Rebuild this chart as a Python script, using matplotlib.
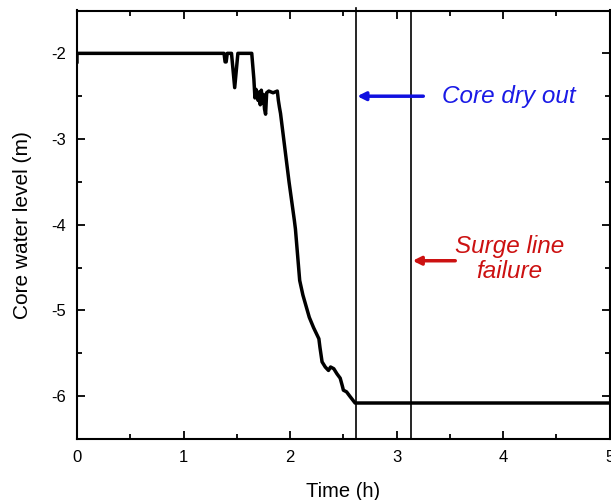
import matplotlib
matplotlib.use("Agg")
import matplotlib.pyplot as plt

plt.rcParams['font.family'] = ['Liberation Sans', 'DejaVu Sans']

# core water level vs time
tiempo_h = [0.0, 0.0, 1.38, 1.39, 1.40, 1.41, 1.45, 1.48, 1.51, 1.54, 1.64, 1.66,
            1.67, 1.68, 1.70, 1.71, 1.72, 1.73, 1.74, 1.75, 1.76, 1.77, 1.78, 1.80,
            1.84, 1.88, 1.89, 1.90, 1.91, 1.94, 1.99, 2.04, 2.05, 2.09, 2.12, 2.15,
            2.18, 2.22, 2.27, 2.28, 2.30, 2.33, 2.36, 2.38, 2.41, 2.44, 2.47, 2.49,
            2.50, 2.53, 2.56, 2.61, 2.63, 5.0]
nivel_m = [-2.10, -2.0, -2.0, -2.10, -2.10, -2.0, -2.0, -2.40, -2.0, -2.0, -2.0, -2.30,
           -2.52, -2.42, -2.55, -2.45, -2.60, -2.43, -2.58, -2.48, -2.65, -2.71, -2.46,
           -2.44, -2.46, -2.44, -2.55, -2.63, -2.70, -3.00, -3.50, -3.95, -4.05, -4.65,
           -4.82, -4.95, -5.08, -5.20, -5.33, -5.43, -5.60, -5.66, -5.70, -5.66, -5.68,
           -5.74, -5.79, -5.88, -5.93, -5.95, -6.00, -6.08, -6.08, -6.08]

# eventos
t_dryout = 2.62
t_surge = 3.13


def gere_grafico_nivel():
    fig = plt.figure(figsize=(6.11, 5.0), dpi=100)
    ax = fig.add_axes([0.126, 0.122, 0.872, 0.857])

    ax.plot(tiempo_h, nivel_m, color='black', lw=2.5, solid_joinstyle='round')
    ax.axvline(t_dryout, color='black', lw=1.2, clip_on=False, ymax=1.005)
    ax.axvline(t_surge, color='black', lw=1.2)

    # flechas e textos
    ax.annotate('', xy=(t_dryout + 0.01, -2.5), xytext=(3.25, -2.5),
                arrowprops=dict(arrowstyle='-|>', color='#1010e0', lw=2.5,
                                mutation_scale=12, shrinkA=0, shrinkB=0))
    ax.text(4.05, -2.5, 'Core dry out', color='#1a1ae6', fontsize=17.5,
            style='italic', ha='center', va='center')
    ax.annotate('', xy=(t_surge + 0.02, -4.42), xytext=(3.55, -4.42),
                arrowprops=dict(arrowstyle='-|>', color='#cc1111', lw=2.5,
                                mutation_scale=12, shrinkA=0, shrinkB=0))
    ax.text(4.06, -4.4, 'Surge line\nfailure', color='#cc1111', fontsize=17.5,
            style='italic', ha='center', va='center', linespacing=1.15)

    ax.set_xlim(0, 5)
    ax.set_ylim(-6.5, -1.5)
    ax.set_xticks([0, 1, 2, 3, 4, 5])
    ax.set_xticks([0.5, 1.5, 2.5, 3.5, 4.5], minor=True)
    ax.set_yticks([-6, -5, -4, -3, -2])
    ax.set_yticks([-5.5, -4.5, -3.5, -2.5], minor=True)
    ax.set_yticklabels(['-6', '-5', '-4', '-3', '-2'])
    ax.tick_params(which='both', direction='in', top=True, right=True,
                   labelsize=12, width=1.3, pad=8)
    ax.tick_params(which='major', length=6)
    ax.tick_params(which='minor', length=3.5)
    for s in ax.spines.values():
        s.set_linewidth(1.5)

    ax.set_xlabel('Time (h)', fontsize=14.5, labelpad=12)
    ax.set_ylabel('Core water level (m)', fontsize=15, labelpad=14)

    fig.savefig('out.png', dpi=100)


gere_grafico_nivel()
